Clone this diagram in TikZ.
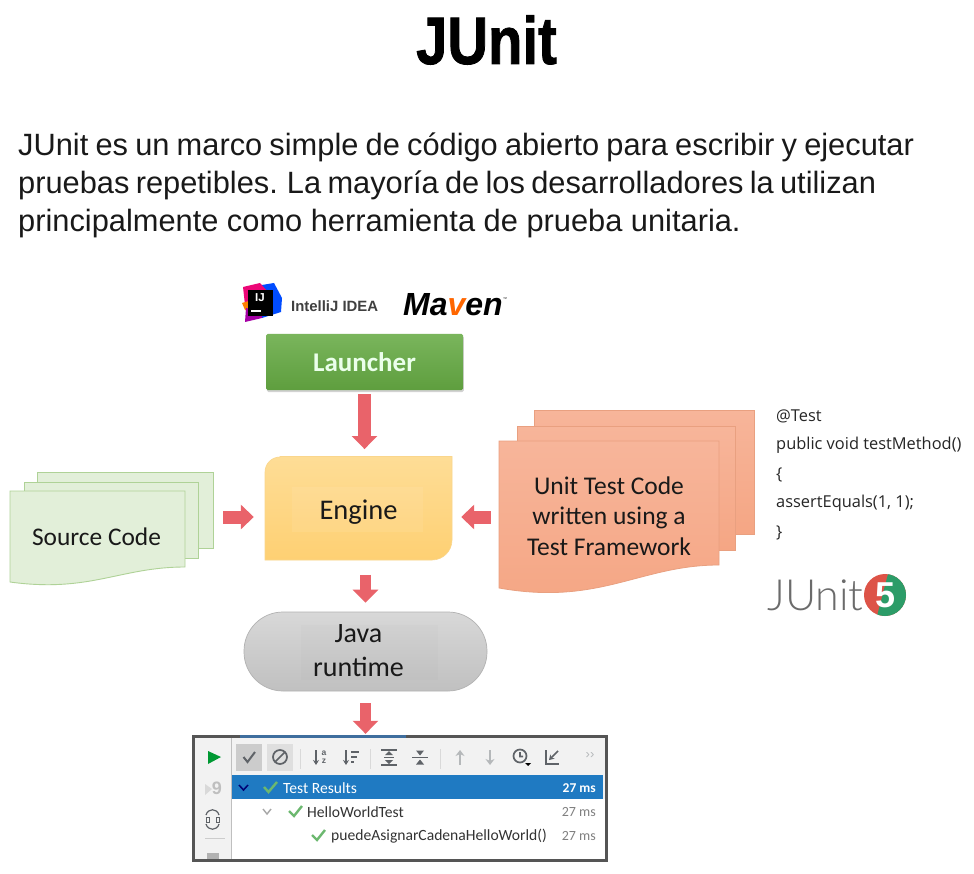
\documentclass[tikz,border=0pt]{standalone}
\usepackage{fontspec}
\setmainfont{Liberation Sans}
\newfontfamily\titlefont[FakeBold=1.3]{Liberation Sans Bold}
\newfontfamily\calfont{Carlito}
\newfontfamily\codefont{Open Sans}
\newfontfamily\lightfont[UprightFont=* Light]{Lato}
\usetikzlibrary{arrows.meta,shadows,calc}
\definecolor{arrowred}{HTML}{E9636A}
\definecolor{docgreen}{HTML}{E2EFD9}
\definecolor{docgreenline}{HTML}{AFD297}
\definecolor{docorange}{HTML}{F7B59A}
\definecolor{docorangeb}{HTML}{F5A684}
\definecolor{docorangeline}{HTML}{E9A080}
\definecolor{selblue}{HTML}{1F7AC2}
\definecolor{panelgrey}{HTML}{F2F2F2}
\definecolor{framegrey}{HTML}{555555}
\definecolor{icongrey}{HTML}{5F6368}
\definecolor{iconlight}{HTML}{B5B8BA}
\definecolor{okgreen}{HTML}{6CB86F}
\definecolor{fivered}{HTML}{DD5347}
\definecolor{fivegreen}{HTML}{2C9C68}
\definecolor{tabblue}{HTML}{3F6E9E}
\tikzset{
  x=1pt,y=-1pt,
  blockv/.style={draw=arrowred,line width=13pt,-{Triangle[width=25pt,length=13pt,fill=arrowred]}},
  blockn/.style={draw=arrowred,line width=11pt,-{Triangle[width=25pt,length=13pt,fill=arrowred]}},
  blockh/.style={draw=arrowred,line width=13pt,-{Triangle[width=24pt,length=13pt,fill=arrowred]}},
  diagtext/.style={font=\calfont\fontsize{28}{33.5}\selectfont,align=center,text=black!90},
  greendoc/.style={fill=docgreen,draw=docgreenline,line width=.9pt},
  orangedoc/.style={top color=docorange,bottom color=docorangeb,draw=docorangeline,line width=.8pt},
  treetext/.style={font=\calfont\fontsize{15.6}{18}\selectfont,anchor=west,inner sep=0pt},
  timetext/.style={font=\calfont\fontsize{14}{16}\selectfont,anchor=east,inner sep=0pt,text=black!50},
  okmark/.style={draw=okgreen,line width=2.4pt},
  ic/.style={draw=icongrey,line width=1.3pt},
  icl/.style={draw=iconlight,line width=1.4pt},
  codeline/.style={font=\codefont\fontsize{16.4}{18}\selectfont,anchor=base west,inner sep=0pt,text=black!85},
}
\begin{document}
\begin{tikzpicture}
\useasboundingbox (0,0) rectangle (974,874);
\fill[white] (0,0) rectangle (974,874);

% Title and paragraph
\node[font=\titlefont\fontsize{67}{70}\selectfont,xscale=.84,inner sep=0pt,text=black] (title) at (486.5,40) {JUnit};
\node[font=\fontsize{30.8}{38.2}\selectfont,align=left,anchor=north west,inner sep=0pt,text=black!90] (para) at (18,132.5)
 {\frenchspacing\spaceskip=7.2pt JUnit es un marco simple de código abierto para escribir y ejecutar\\
  \spaceskip=6.3pt pruebas repetibles. La mayoría de los desarrolladores la utilizan\\
  \spaceskip=0pt principalmente como herramienta de prueba unitaria.};

% IntelliJ logo
\fill[blue!70!cyan] (262,285) -- (274,283) -- (282,298) -- (281,312) -- (262,318) -- cycle;
\fill[magenta!80!red] (243,287) -- (260,283) -- (268,292) -- (250,312) -- (245,305) -- cycle;
\fill[orange] (242,303) -- (252,300) -- (252,312) -- (245,310) -- cycle;
\fill[violet!70!magenta] (246,308) -- (262,312) -- (262,318) -- (245,322) -- cycle;
\fill[black] (248,290) rectangle (273,316);
\node[font=\bfseries\fontsize{11.5}{12}\selectfont,text=white,inner sep=0pt] (ijmark) at (260,298) {IJ};
\fill[white] (251,310) rectangle (261,312);
\node[font=\bfseries\fontsize{14.9}{14}\selectfont,inner sep=0pt,anchor=west,text=black!75] (idea) at (291,306.5) {IntelliJ IDEA};

% Maven logo
\node[font=\bfseries\itshape\fontsize{32}{34}\selectfont,inner sep=0pt,anchor=base west] (maven) at (403,316) {Ma\textcolor{orange!80!red}{v}en};
\node[font=\fontsize{4}{4}\selectfont,inner sep=0pt] (mavtm) at (505,299) {™};

% Launcher
\node[minimum width=197pt,minimum height=56pt,inner sep=0pt,rounded corners=1.5pt,
      top color={rgb,255:red,122;green,181;blue,92},bottom color={rgb,255:red,94;green,158;blue,62},
      drop shadow={shadow xshift=.8pt,shadow yshift=-2pt,opacity=.35},
      font=\calfont\bfseries\fontsize{27}{30}\selectfont,text=white!92!green] (launcher) at (364.5,362) {Launcher};

% Engine
\path[top color={rgb,255:red,254;green,221;blue,150},bottom color={rgb,255:red,254;green,208;blue,115},draw={rgb,255:red,250;green,214;blue,140},line width=.6pt]
  (280,456.5) -- (452,456.5) -- (452,540) arc[start angle=0,end angle=90,radius=20,y=1pt] -- (265,560) -- (265,472) arc[start angle=180,end angle=270,radius=15,y=1pt] -- cycle;
\fill[white,opacity=.07] (292,487) rectangle (423,532);
\node[minimum width=187pt,minimum height=103.5pt,inner sep=0pt,diagtext,font=\calfont\fontsize{28.5}{33}\selectfont] (engine) at (358.5,512) {Engine};

% Java runtime
\node[rounded corners=39pt,minimum width=243pt,minimum height=79pt,inner sep=0pt,draw={rgb,255:red,178;green,178;blue,178},line width=.7pt,
      top color={rgb,255:red,216;green,216;blue,216},bottom color={rgb,255:red,192;green,192;blue,192}] (java) at (365.5,651.5) {};
\fill[black,opacity=.012] (301,625) rectangle (438,680);
\node[diagtext,inner sep=0pt] (javatext) at (358.5,650.5) {Java\\runtime};

% Source Code stack
\path[greendoc] (37,472) rectangle (213,548);
\path[greendoc] (24,482) rectangle (198,558);
\path[greendoc] (10,491) -- (185,491) -- (185,567) .. controls (120,567) and (90,593) .. (10,582) -- cycle;
\node[minimum width=175pt,minimum height=76pt,inner sep=0pt,font=\calfont\fontsize{25.4}{30}\selectfont,text=black!90] (source) at (96.5,537) {Source Code};

% Unit test stack
\path[orangedoc] (534,410) rectangle (754,534);
\path[orangedoc] (517,426) rectangle (735,550);
\path[orangedoc] (499,441) -- (719,441) -- (719,565) .. controls (640,565) and (600,606) .. (499,588) -- cycle;
\node[minimum width=220pt,minimum height=124pt,inner sep=0pt,diagtext,font=\calfont\fontsize{25.5}{30.5}\selectfont] (unittest) at (609,516) {Unit Test Code\\written using a\\Test Framework};

% Code sample
\node[codeline] (c1) at (776,421) {@Test};
\node[codeline] (c2) at (776,449) {public void testMethod()};
\node[codeline] (c3) at (776,479) {\{};
\node[codeline] (c4) at (776,507) {assertEquals(1, 1);};
\node[codeline] (c5) at (776,537) {\}};

% JUnit 5 logo
\node[font=\lightfont\fontsize{43}{50}\selectfont,inner sep=0pt,anchor=base west,text=black!58] (junitlogo) at (767,610.5) {JUnit};
\fill[fivered] (885,595) circle[radius=21];
\begin{scope}
  \clip (885,595) circle[radius=21];
  \fill[fivegreen] (889,570) -- (910,570) -- (910,620) -- (876,620) -- cycle;
\end{scope}
\node[font=\bfseries\fontsize{36}{36}\selectfont,text=white,inner sep=0pt] (five) at (885,595) {5};

% Results panel
\node[minimum width=414pt,minimum height=124pt,inner sep=0pt,fill=panelgrey] (panel) at (400,798) {};
\fill[white] (231,799) rectangle (606,859);
\fill[selblue] (231,775) rectangle (603,799);
\draw[black!25,line width=.6pt] (231,737) -- (231,859);
\fill[gray!40] (236,744) rectangle (262,771);
\fill[gray!25] (267,744) rectangle (293,771);
% toolbar icons
\fill[green!50!black!80!cyan] (208,751) -- (221,757) -- (208,764) -- cycle;
\draw[ic,line width=2pt] (243.5,757) -- (247.5,762) -- (255,752);
\draw[ic,line width=1.7pt] (280,757) circle[radius=7] (275,762) -- (285,752);
\draw[black!15,line width=.8pt] (300,749) -- (300,769) (370,749) -- (370,769) (440,749) -- (440,769);
\draw[ic,-{Stealth[length=5pt,width=6pt]}] (316,750) -- (316,765);
\node[font=\bfseries\fontsize{8.5}{7.5}\selectfont,align=center,inner sep=0pt,text=icongrey] (sorta) at (324,757) {a\\z};
\draw[ic,-{Stealth[length=5pt,width=6pt]}] (346,750) -- (346,765);
\draw[ic] (351,752) -- (359,752) (351,757) -- (357,757) (351,762) -- (354,762);
\draw[ic] (381,750) -- (397,750) (381,765) -- (397,765) (384,757.5) -- (394,757.5);
\fill[icongrey] (389,751) -- (393,755) -- (385,755) -- cycle;
\fill[icongrey] (389,764) -- (393,760) -- (385,760) -- cycle;
\draw[ic] (412,757.5) -- (428,757.5);
\fill[icongrey] (420,755.5) -- (424,750.5) -- (416,750.5) -- cycle;
\fill[icongrey] (420,759.5) -- (424,764.5) -- (416,764.5) -- cycle;
\draw[icl,-{Stealth[length=6pt,width=9pt]}] (460,765) -- (460,750);
\draw[icl,-{Stealth[length=6pt,width=9pt]}] (490,750) -- (490,765);
\draw[ic,line width=1.7pt] (520,756) circle[radius=6.5] (520,752) -- (520,756.5) -- (523,756.5);
\fill[black] (525,763) -- (531,763) -- (528,766) -- cycle;
\draw[ic,line width=1.6pt] (546,750) -- (546,764) -- (559,764);
\draw[ic,line width=1.6pt,-{Stealth[length=5pt,width=6pt]}] (558,751) -- (549,760);
\node[font=\fontsize{13}{13}\selectfont,text=iconlight,inner sep=0pt] (more) at (590,756) {››};
% left strip icons
\fill[black!15] (205,784) -- (212,789) -- (205,795) -- cycle;
\node[font=\bfseries\fontsize{18}{18}\selectfont,text=black!25,inner sep=0pt] (nine) at (217,788) {9};
\draw[ic,line width=1.2pt] (206,815) .. controls (208,808) and (217,808) .. (219,815);
\draw[ic,line width=1.2pt] (206,824) .. controls (208,831) and (217,831) .. (219,824);
\draw[ic,line width=1pt] (206,817) rectangle (209,822) (216,817) rectangle (219,822);
\draw[black!20,line width=.7pt] (205,838) -- (225,838);
\fill[black!30] (207,853) rectangle (219,859);
% tree rows
\draw[black!55!blue,line width=1.5pt] (239,785) -- (243.5,790) -- (248,785);
\draw[okmark] (264,787) -- (268.5,792) -- (277,782);
\node[treetext,text=white] (r1) at (283,788) {Test Results};
\node[timetext,text=white,font=\calfont\bfseries\fontsize{13.5}{16}\selectfont] (t1) at (596,788) {27 ms};
\draw[black!35,line width=1.4pt] (263,809) -- (267,814) -- (271,809);
\draw[okmark] (289,811) -- (294,816) -- (302,806);
\node[treetext,text=black!80] (r2) at (307,812) {HelloWorldTest};
\node[timetext] (t2) at (596,812) {27 ms};
\draw[okmark] (312,835) -- (317,840) -- (325,830);
\node[treetext,text=black!80] (r3) at (331,836) {puedeAsignarCadenaHelloWorld()};
\node[timetext] (t3) at (596,836) {27 ms};
\draw[framegrey,line width=3.5pt] (193.5,736.5) rectangle (606.5,860.5);
\fill[tabblue] (240,735) rectangle (406,738);

% Connectors
\coordinate (ly) at (0,517);
\draw[blockv,shorten <=4pt,shorten >=11pt] (launcher.south) -- (launcher.south |- engine.north);
\draw[blockn,shorten <=11pt,shorten >=9pt] (java.north |- engine.south) -- (java.north);
\draw[blockh,shorten <=39pt,shorten >=11pt] (source.east |- ly) -- (engine.west |- ly);
\draw[blockh,shorten <=8pt,shorten >=9pt] (unittest.west |- ly) -- (engine.east |- ly);
\coordinate (lowtop) at (panel.north -| java.south);
\draw[blockn,shorten <=12pt,shorten >=2pt] (java.south) -- (lowtop);
\end{tikzpicture}
\end{document}
